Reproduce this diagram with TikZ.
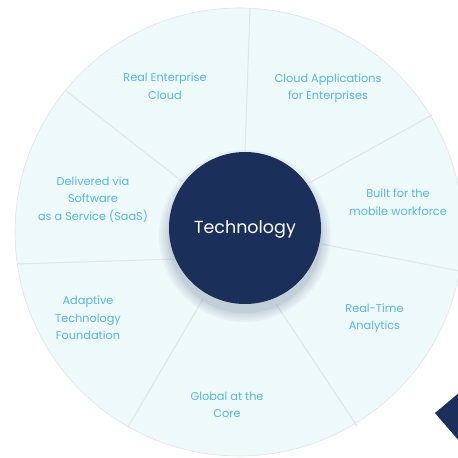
\documentclass[tikz,border=0pt]{standalone}
\usepackage{fontspec}
\setmainfont{Poppins}
\definecolor{navy}{RGB}{26,47,89}
\definecolor{pale}{RGB}{238,249,250}
\definecolor{txt}{RGB}{82,183,228}
\definecolor{sep}{RGB}{224,229,231}
\tikzset{
  lbl/.style={text=txt, align=center, font=\fontsize{11.3}{17.5}\selectfont, inner sep=0pt},
  sepline/.style={draw=sep, line width=1pt}
}
\begin{document}
\begin{tikzpicture}[x=1pt,y=-1pt]
\useasboundingbox (0,0) rectangle (458,458);
\clip (0,0) rectangle (458,458);
\fill[white] (0,0) rectangle (458,458);
% outer disc
\node[circle, minimum size=448pt, fill=pale, draw=sep, line width=0.6pt, inner sep=0pt] (disc) at (239,232) {};
% separators
\coordinate (o1) at (65,90);   \coordinate (i1) at (183,182);
\coordinate (o2) at (250,8);   \coordinate (i2) at (245,152);
\coordinate (o3) at (432,115); \coordinate (i3) at (309,183);
\coordinate (o4) at (470,273); \coordinate (i4) at (322,244);
\coordinate (o5) at (357,426); \coordinate (i5) at (276,304);
\coordinate (o6) at (128,427); \coordinate (i6) at (203,299);
\coordinate (o7) at (17,264);  \coordinate (i7) at (175,259);
\foreach \k in {1,...,7} {\draw[sepline] (i\k) -- (o\k);}
% soft shadow below the hub
\foreach \r in {86,84,82,80,78,77} {
  \fill[navy, opacity=0.035] (245,236) circle (\r);
}
% centre
\node[circle, minimum size=152pt, fill=navy, inner sep=0pt] (hub) at (245,228) {};
\node[text=white, font=\fontsize{17.5}{20}\selectfont, anchor=base, inner sep=0pt]
  (hubtext) at (245,233.5) {Technology};
% labels
\node[lbl] (l1) at (165,86) {Real Enterprise\\Cloud};
\node[lbl] (l2) at (328,88) {Cloud Applications\\for Enterprises};
\node[lbl] (l3) at (398,202) {Built for the\\mobile workforce};
\node[lbl] (l4) at (374.5,318) {Real-Time\\Analytics};
\node[lbl] (l5) at (227,405) {Global at the\\Core};
\node[lbl] (l6) at (88,318) {Adaptive\\Technology\\Foundation};
\node[lbl] (l7) at (93,199.5) {Delivered via\\Software\\as a Service (SaaS)};
% corner marker
\fill[navy] (435,413) -- (460,392) -- (460,442) -- cycle;
\end{tikzpicture}
\end{document}
